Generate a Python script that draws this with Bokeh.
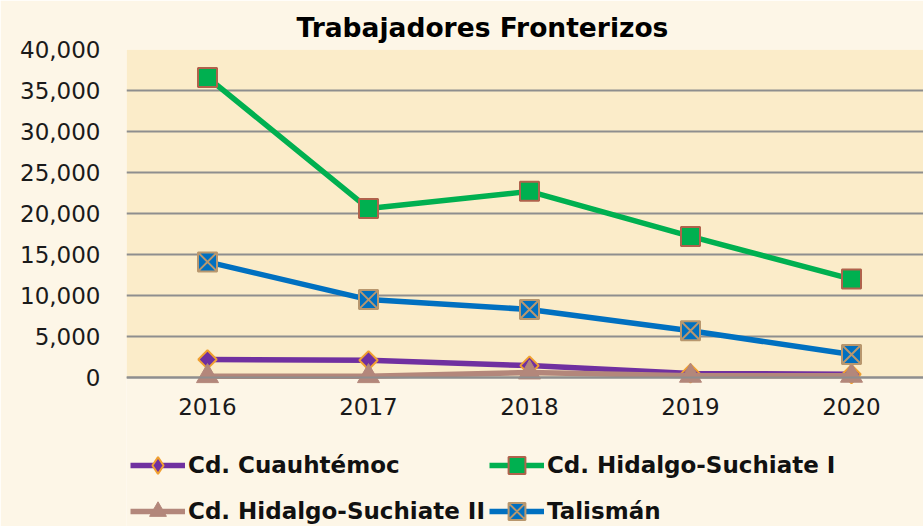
import math
from bokeh.plotting import figure
from bokeh.models import (Range1d, FixedTicker, NumeralTickFormatter, Legend, LegendItem, Title,
                          BoxAnnotation)
from bokeh.embed import file_html
from bokeh.resources import INLINE

years = [2016, 2017, 2018, 2019, 2020]
cuauhtemoc = [2200, 2100, 1450, 500, 400]
suchiate_1 = [36600, 20600, 22700, 17200, 12000]
suchiate_2 = [150, 150, 600, 200, 200]
talisman = [14100, 9500, 8300, 5700, 2800]
y_ticks = [0, 5000, 10000, 15000, 20000, 25000, 30000, 35000, 40000]
series_names = ["Cd. Cuauhtémoc", "Cd. Hidalgo-Suchiate I", "Cd. Hidalgo-Suchiate II", "Talismán"]
title_text = "Trabajadores Fronterizos"

W, H = 923, 526
TOP, LEFT = 49, 126
PX_PER_UNIT = 328 / 40000          # plot area: 0 .. 40000 over 328 px
y_low = -(H - 377) / PX_PER_UNIT   # frame continues below the zero line to hold labels and legend

p = figure(width=W, height=H, output_backend="svg", toolbar_location=None,
           x_range=Range1d(2016 - 81 / 161, 2016 - 81 / 161 + 797 / 161),
           y_range=Range1d(y_low, 40000),
           min_border_left=LEFT, min_border_right=0, min_border_top=TOP, min_border_bottom=0)

p.background_fill_color = "#FDF6E7"
p.border_fill_color = "#FDF6E7"
p.outline_line_color = None

plot_area = BoxAnnotation(bottom=0, top=40000, fill_color="#FBECC9", fill_alpha=1,
                          line_color=None, level="image")
p.add_layout(plot_area)

p.title = Title(text=title_text, align="left", offset=170,
                text_font="DejaVu Sans", text_font_size="26.5px", text_font_style="bold",
                text_color="#000000", standoff=13)

p.xgrid.grid_line_color = None
p.ygrid.grid_line_color = "#8E8E8E"
p.ygrid.grid_line_width = 2
p.ygrid.ticker = FixedTicker(ticks=y_ticks)

p.yaxis.ticker = FixedTicker(ticks=y_ticks)
p.yaxis.formatter = NumeralTickFormatter(format="0,0")
p.yaxis.axis_line_color = None
p.yaxis.major_tick_line_color = None
p.yaxis.major_tick_out = 0
p.yaxis.major_tick_in = 0
p.yaxis.minor_tick_line_color = None
p.yaxis.major_label_standoff = 26
p.yaxis.major_label_text_font = "DejaVu Sans"
p.yaxis.major_label_text_font_size = "23px"
p.yaxis.major_label_text_color = "#1a1a1a"

p.xaxis.fixed_location = 0
p.xaxis.ticker = FixedTicker(ticks=years)
p.xaxis.axis_line_color = "#8E8E8E"
p.xaxis.axis_line_width = 2
p.xaxis.major_tick_line_color = None
p.xaxis.major_tick_out = 0
p.xaxis.major_tick_in = 0
p.xaxis.minor_tick_line_color = None
p.xaxis.major_label_standoff = 20
p.xaxis.major_label_text_font = "DejaVu Sans"
p.xaxis.major_label_text_font_size = "23px"
p.xaxis.major_label_text_color = "#1a1a1a"

l1 = p.line(years, cuauhtemoc, line_color="#7030A0", line_width=5.5)
# diamond used as legend swatch; hidden underneath the rotated-square markers in the plot
m1_key = p.scatter(years, cuauhtemoc, marker="diamond", size=15,
                   fill_color="#7030A0", line_color="#F0A030", line_width=2)
m1 = p.scatter(years, cuauhtemoc, marker="square", size=13, angle=math.pi / 4,
               fill_color="#7030A0", line_color="#F0A030", line_width=2)

l2 = p.line(years, suchiate_1, line_color="#00B050", line_width=5.5)
m2 = p.scatter(years, suchiate_1, marker="square", size=19,
               fill_color="#00B050", line_color="#B0624C", line_width=2)

l3 = p.line(years, suchiate_2, line_color="#B3877B", line_width=5.5)
m3 = p.scatter(years, suchiate_2, marker="triangle", size=22,
               fill_color="#B3877B", line_color="#B3877B", line_width=1)

l4 = p.line(years, talisman, line_color="#0070C0", line_width=5.5)
m4 = p.scatter(years, talisman, marker="square_x", size=19,
               fill_color="#0070C0", line_color="#B8976E", line_width=2)

# column-major order so that rows read: Cuauhtémoc | Suchiate I / Suchiate II | Talismán
items = [
    LegendItem(label=series_names[0], renderers=[l1, m1_key]),
    LegendItem(label=series_names[2], renderers=[l3, m3]),
    LegendItem(label=series_names[1], renderers=[l2, m2]),
    LegendItem(label=series_names[3], renderers=[l4, m4]),
]

legend = Legend(items=items, location=(4, -6), ncols=2,
                glyph_width=55, glyph_height=42, label_height=42, spacing=4,
                label_standoff=3, padding=0, margin=0,
                label_text_font="DejaVu Sans", label_text_font_size="23px",
                label_text_font_style="bold", label_text_color="#111111",
                border_line_color=None, background_fill_alpha=0)
p.add_layout(legend, "center")

open("out.html", "w").write(file_html(p, INLINE))
